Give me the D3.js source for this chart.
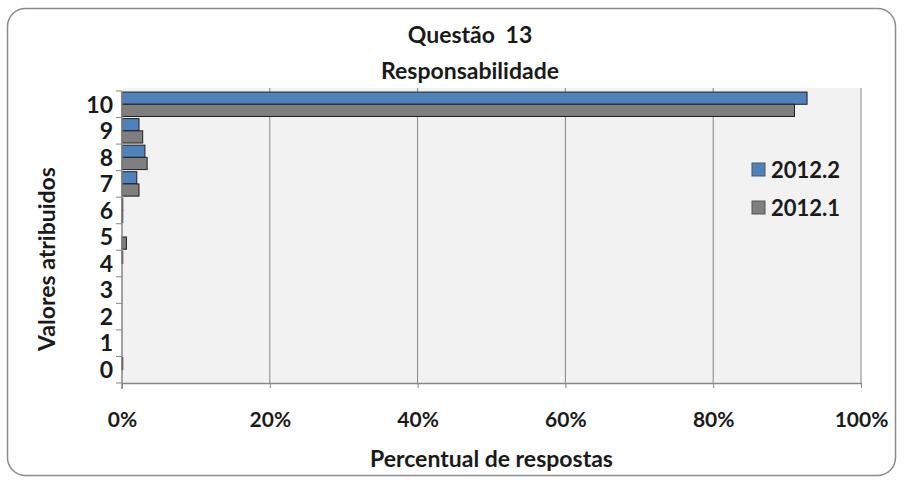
<!DOCTYPE html>
<meta charset="utf-8">
<style>
  body { margin: 0; background: #fff; }
  text { font-family: Lato, "Open Sans", Arial, sans-serif; font-weight: bold; fill: #1a1a1a; }
</style>
<body>
<script src="https://cdn.jsdelivr.net/npm/d3@7"></script>
<script>

var categories = ["10", "9", "8", "7", "6", "5", "4", "3", "2", "1", "0"];
var series = ["2012.2", "2012.1"];
var values2012_2 = [92.7, 2.3, 3.1, 2.0, 0.1, 0, 0.1, 0, 0, 0, 0.1];
var values2012_1 = [91.0, 2.8, 3.4, 2.3, 0.1, 0.6, 0, 0, 0, 0, 0];
var xTicks = [0, 20, 40, 60, 80, 100];
var colors = ["#4f81bd", "#7f7f7f"];

var width = 904, height = 484;
var margin = {left: 122, right: 43, top: 91, bottom: 101};

var svg = d3.select("body").append("svg")
    .attr("width", width)
    .attr("height", height);

// chart frame
svg.append("rect")
    .attr("x", 7.5).attr("y", 8.5)
    .attr("width", 888).attr("height", 467)
    .attr("rx", 18)
    .attr("fill", "#fff")
    .attr("stroke", "#8c8c8c")
    .attr("stroke-width", 1.5);

var x = d3.scaleLinear().domain([0, 100]).range([margin.left, width - margin.right]);
var y = d3.scaleBand().domain(categories).range([margin.top, height - margin.bottom]).paddingInner(0.08).paddingOuter(0.04);
var ySub = d3.scaleBand().domain(series).range([0, y.bandwidth()]);

// plot area
svg.append("rect")
    .attr("x", x(0)).attr("y", margin.top - 3)
    .attr("width", x(100) - x(0)).attr("height", height - margin.bottom - margin.top + 3)
    .attr("fill", "#f2f2f2");

// gridlines
svg.append("g").selectAll("line")
    .data(xTicks.slice(1))
    .enter().append("line")
    .attr("x1", function(d) { return x(d); })
    .attr("x2", function(d) { return x(d); })
    .attr("y1", margin.top - 3)
    .attr("y2", height - margin.bottom)
    .attr("stroke", "#868686");

// bars
var rows = categories.map(function(c, i) {
  return {cat: c, vals: [values2012_2[i], values2012_1[i]]};
});

var g = svg.append("g").selectAll("g")
    .data(rows)
    .enter().append("g")
    .attr("transform", function(d) { return "translate(0," + y(d.cat) + ")"; });

g.selectAll("rect")
    .data(function(d) { return d.vals.map(function(v, j) { return {s: series[j], v: v, j: j}; }); })
    .enter().append("rect")
    .filter(function(d) { return d.v > 0; })
    .attr("x", x(0))
    .attr("y", function(d) { return ySub(d.s); })
    .attr("width", function(d) { return x(d.v) - x(0); })
    .attr("height", ySub.bandwidth())
    .attr("fill", function(d) { return colors[d.j]; })
    .attr("stroke", "#1f1f1f")
    .attr("stroke-width", 1);

// x axis
var xAxis = svg.append("g")
    .attr("transform", "translate(0," + (height - margin.bottom) + ")")
    .call(d3.axisBottom(x).tickValues(xTicks).tickFormat(function(d) { return d + "%"; }).tickSize(5).tickSizeOuter(0).tickPadding(24));
xAxis.select(".domain").attr("stroke", "#868686").attr("stroke-width", 1.5);
xAxis.selectAll(".tick line").attr("stroke", "#868686");
xAxis.selectAll("text").style("font-size", "21px").attr("fill", "#1a1a1a");

// y axis
var yBoundaries = d3.range(categories.length + 1).map(function(i) {
  return margin.top + i * (height - margin.bottom - margin.top) / categories.length;
});
svg.append("g").selectAll("line")
    .data(yBoundaries)
    .enter().append("line")
    .attr("x1", x(0) - 6).attr("x2", x(0))
    .attr("y1", function(d) { return d; }).attr("y2", function(d) { return d; })
    .attr("stroke", "#868686");
svg.append("line")
    .attr("x1", x(0)).attr("x2", x(0))
    .attr("y1", margin.top).attr("y2", height - margin.bottom + 6)
    .attr("stroke", "#868686").attr("stroke-width", 1.5);

svg.append("g").selectAll("text")
    .data(categories)
    .enter().append("text")
    .attr("x", 113)
    .attr("y", function(d) { return y(d) + y.bandwidth() / 2; })
    .attr("dy", "0.36em")
    .attr("text-anchor", "end")
    .style("font-size", "23px")
    .text(function(d) { return d; });

// titles
svg.append("text")
    .attr("x", 470).attr("y", 43)
    .attr("text-anchor", "middle")
    .style("font-size", "23px")
    .style("word-spacing", "5px")
    .text("Questão 13");
svg.append("text")
    .attr("x", 470).attr("y", 79)
    .attr("text-anchor", "middle")
    .style("font-size", "23px")
    .text("Responsabilidade");

svg.append("text")
    .attr("transform", "translate(55,259)rotate(-90)")
    .attr("text-anchor", "middle")
    .style("font-size", "23px")
    .text("Valores atribuidos");

svg.append("text")
    .attr("x", (x(0) + x(100)) / 2).attr("y", 467)
    .attr("text-anchor", "middle")
    .style("font-size", "23px")
    .text("Percentual de respostas");

// legend
var legend = svg.append("g").selectAll("g")
    .data(series)
    .enter().append("g")
    .attr("transform", function(d, i) { return "translate(752," + (170 + i * 38) + ")"; });
legend.append("rect")
    .attr("x", 0).attr("y", -7)
    .attr("width", 13).attr("height", 13)
    .attr("fill", function(d, i) { return colors[i]; })
    .attr("stroke", "#555");
legend.append("text")
    .attr("x", 19).attr("y", 0)
    .attr("dy", "0.36em")
    .style("font-size", "22px")
    .text(function(d) { return d; });

</script>
</body>
</html>
